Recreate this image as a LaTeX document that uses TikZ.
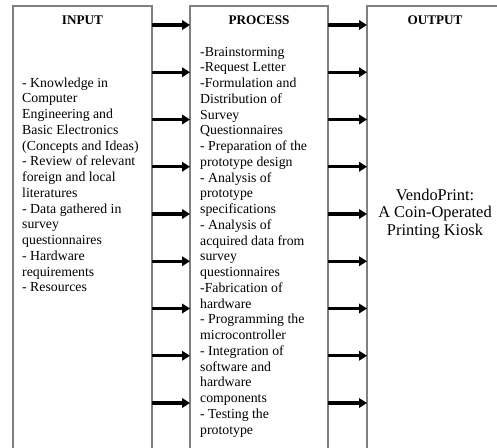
\documentclass[tikz,border=0pt]{standalone}
\usepackage{fontspec}
\setmainfont{Liberation Serif}
\usetikzlibrary{arrows.meta}
\definecolor{boxgray}{RGB}{128,128,128}
\begin{document}
\begin{tikzpicture}[x=1pt,y=-1pt,
  box/.style={draw=boxgray, line width=1.2pt, rectangle, anchor=north west, outer sep=0pt, inner sep=0pt, minimum height=460pt},
  ttl/.style={font=\fontsize{13.2}{15}\selectfont\bfseries, anchor=base, inner sep=0pt},
  body/.style={font=\fontsize{13.8}{15.75}\selectfont, align=left, anchor=north west, inner sep=0pt},
  outtext/.style={font=\fontsize{16.4}{17.5}\selectfont, align=center, anchor=north, inner sep=0pt},
  arr/.style={-{Triangle[length=8pt,width=9.5pt]}, line width=3.2pt, black}]
\useasboundingbox (0,0) rectangle (497,447);
\clip (0,0) rectangle (497,447);
\fill[white] (0,0) rectangle (497,447);
% boxes
\node[box, minimum width=139pt] (inbox) at (13,6) {};
\node[box, minimum width=138pt] (procbox) at (190,6) {};
\node[box, minimum width=136pt] (outbox) at (367,6) {};
% titles
\node[ttl] (intitle) at (82.5,24) {INPUT};
\node[ttl] (proctitle) at (259,24) {PROCESS};
\node[ttl] (outtitle) at (435,24) {OUTPUT};
% texts
\node[body] (intext) at (22,76) {\rule{0pt}{11pt}- Knowledge in\\
Computer\\
Engineering and\\
Basic Electronics\\
(Concepts and Ideas)\\
- Review of relevant\\
foreign and local\\
literatures\\
- Data gathered in\\
survey\\
questionnaires\\
- Hardware\\
requirements\\
- Resources};
\node[body] (proctext) at (200,45) {\rule{0pt}{11pt}-Brainstorming\\
-Request Letter\\
-Formulation and\\
Distribution of\\
Survey\\
Questionnaires\\
- Preparation of the\\
prototype design\\
- Analysis of\\
prototype\\
specifications\\
- Analysis of\\
acquired data from\\
survey\\
questionnaires\\
-Fabrication of\\
hardware\\
- Programming the\\
microcontroller\\
- Integration of\\
software and\\
hardware\\
components\\
- Testing the\\
prototype};
\node[outtext] (outtextnode) at (435,188) {\rule{0pt}{12pt}VendoPrint:\\
A Coin-Operated\\
Printing Kiosk};
% arrows
\foreach \i in {0,...,8} {
  \pgfmathsetmacro{\yy}{25+47.25*\i}
  \draw[arr] (inbox.east |- 0,\yy) -- (procbox.west |- 0,\yy);
  \draw[arr] (procbox.east |- 0,\yy) -- (outbox.west |- 0,\yy);
}
\end{tikzpicture}
\end{document}
